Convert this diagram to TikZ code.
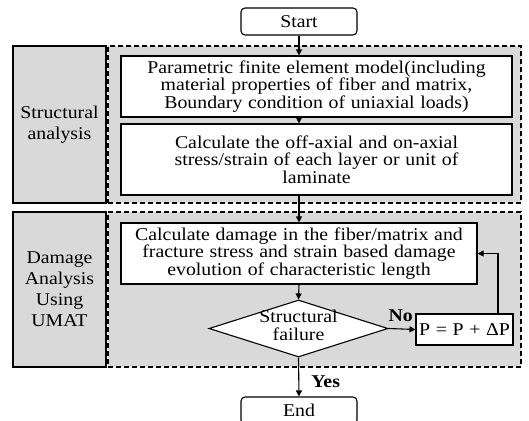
\documentclass[tikz,border=0pt]{standalone}
\usepackage{fontspec}
\setmainfont[FakeStretch=1.1,WordSpace=1.15]{Liberation Serif}
\usetikzlibrary{shapes.geometric,arrows.meta}
\definecolor{panel}{HTML}{D9D9D9}
\begin{document}
\begin{tikzpicture}[x=1pt,y=-1pt,
  every node/.style={font=\fontsize{18}{17.5}\selectfont, inner sep=0pt, line width=1.1pt},
  box/.style={draw, fill=white, align=center},
  sidebox/.style={draw, fill=panel, align=center, font=\fontsize{18}{21}\selectfont},
  dashbox/.style={draw, line width=1.3pt, dash pattern=on 5pt off 3pt, fill=panel},
  arr/.style={-{Triangle[length=6pt,width=6pt]}, line width=1.1pt},
  lab/.style={font=\bfseries\fontsize{18}{18}\selectfont}
]
\useasboundingbox (0,0) rectangle (529,420);
\coordinate (fb) at (498,300);
\node[box, rounded corners=4pt, minimum width=116pt, minimum height=27pt] (start) at (299,21.5) {Start};
\node[sidebox, minimum width=93pt, minimum height=157pt] (sa) at (59.5,124.5) {Structural\\analysis};
\node[dashbox, minimum width=413pt, minimum height=157pt] (d1) at (314.5,124.5) {};
\node[box, minimum width=391pt, minimum height=61pt] (b1) at (316.5,86.5) {Parametric finite element model(including\\material properties of fiber and matrix,\\Boundary condition of uniaxial loads)};
\node[box, minimum width=391pt, minimum height=71pt] (b2) at (316.5,159.5) {Calculate the off-axial and on-axial\\stress/strain of each layer or unit of\\laminate};
\node[sidebox, minimum width=93pt, minimum height=155pt] (da) at (59.5,289.5) {Damage\\Analysis\\Using\\UMAT};
\node[dashbox, minimum width=413pt, minimum height=155pt] (d2) at (314.5,289.5) {};
\node[box, minimum width=356pt, minimum height=61pt] (b3) at (299,253.5) {Calculate damage in the fiber/matrix and\\fracture stress and strain based damage\\evolution of characteristic length};
\node[draw, fill=white, diamond, minimum width=179pt, minimum height=57pt] (dec) at (298.5,328.5) {\makebox[0pt]{\smash{\raisebox{-4pt}{\begin{tabular}{@{}c@{}}Structural\\failure\end{tabular}}}}};
\node[box, minimum width=97pt, minimum height=31pt] (p) at (464.5,329.5) {P = P + ΔP};
\node[box, rounded corners=4pt, minimum width=116pt, minimum height=27pt] (end) at (299,410.5) {End};
\draw[arr] (start.south) -- (start.south |- b1.north);
\draw[arr] (b1.south -| start.south) -- (b2.north -| start.south);
\draw[arr] (b2.south -| start.south) -- (b3.north);
\draw[arr] (b3.south) -- (dec.north);
\draw[arr] (dec.east) -- (p.west) node[lab, pos=0.45, above=7pt] {No};
\draw[arr] (p.north -| fb) |- (b3.east);
\draw[arr] (dec.south) -- (end.north) node[lab, pos=0.62, right=12pt] {Yes};
\end{tikzpicture}
\end{document}
